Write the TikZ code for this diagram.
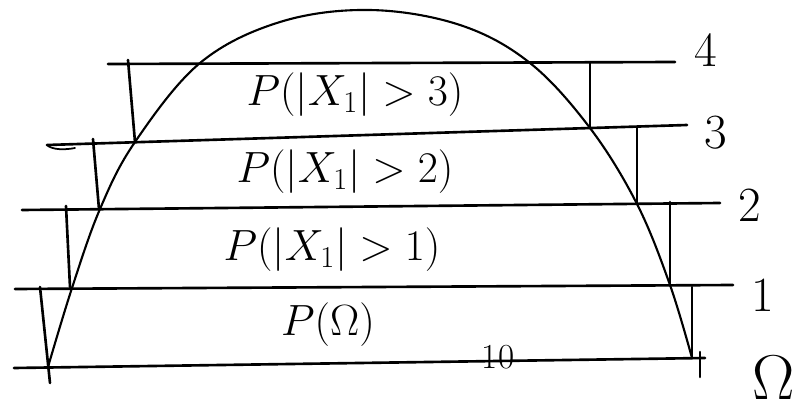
\documentclass[tikz,border=0pt]{standalone}
\usetikzlibrary{positioning}

\begin{document}
\begin{tikzpicture}[x=0.02cm, y=-0.02cm,
    pen/.style={line width=1.5pt, line cap=round},
    prob/.style={font=\fontsize{26}{30}\selectfont, inner sep=0pt},
    lvl/.style={font=\fontsize{28}{32}\selectfont, inner sep=0pt}]
  \useasboundingbox (0,0) rectangle (809,412);

  % level lines
  \coordinate (l4a) at (108,64);  \coordinate (l4b) at (675,62);
  \coordinate (l3a) at (47,145);  \coordinate (l3b) at (687,125);
  \coordinate (l2a) at (22,210);  \coordinate (l2b) at (720,203);
  \coordinate (l1a) at (15,289);  \coordinate (l1b) at (733,285);
  \coordinate (l0a) at (14,368);  \coordinate (l0b) at (705,358);
  \draw[pen] (l4a) -- (l4b);
  \draw[pen] (l3a) -- (l3b);
  \draw[pen] (l2a) -- (l2b);
  \draw[pen] (l1a) -- (l1b);
  \draw[pen] (l0a) -- (l0b);
  \draw[pen, line width=1pt] (l3a) .. controls (52,150) and (65,150) .. (75,148);

  % the curve
  \draw[pen, line width=1.2pt] plot[smooth, tension=0.6] coordinates {
    (48,367) (72,288) (100,209) (135,142) (200,63) (280,22) (370,10)
    (460,25) (530,63) (590,128) (637,204) (670,285) (692,358)};

  % steps
  \draw[pen] (128,60) -- (135,142);
  \draw[pen] (590,63) -- (590,128);
  \draw[pen] (93,139) -- (99,209);
  \draw[pen] (637,127) -- (637,204);
  \draw[pen] (66,206) -- (70,287);
  \draw[pen] (670,202) -- (670,285);
  \draw[pen] (40,287) -- (50,383);
  \draw[pen] (692,287) -- (692,358);
  \draw[pen] (700,352) -- (700,377);

  % labels
  \node[prob] (p3) at (355,95)  {$P(|X_1|>3)$};
  \node[prob] (p2) at (345,172) {$P(|X_1|>2)$};
  \node[prob] (p1) at (332,250) {$P(|X_1|>1)$};
  \node[prob] (p0) at (328,325) {$P(\Omega)$};
  \node[font=\fontsize{20}{24}\selectfont, inner sep=0pt] (pg) at (498,357) {10};

  \node[lvl] (n4) at (706,50)  {4};
  \node[lvl] (n3) at (716,133) {3};
  \node[lvl] (n2) at (750,205) {2};
  \node[lvl] (n1) at (763,295) {1};
  \node[lvl] (n0) at (774,378) {\scalebox{1.45}{$\Omega$}};
\end{tikzpicture}
\end{document}
